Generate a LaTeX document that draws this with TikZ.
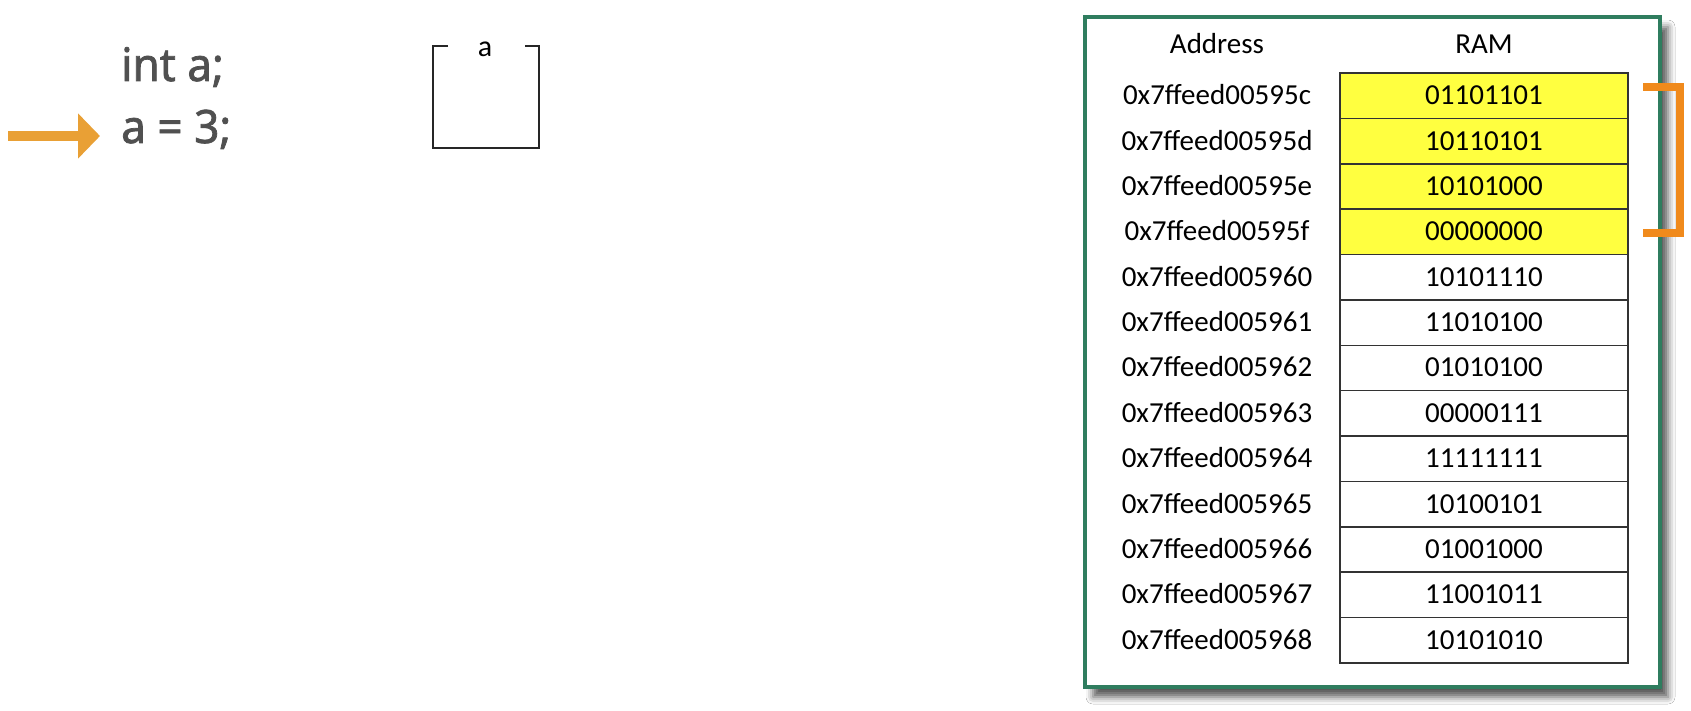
\documentclass[tikz,border=0pt]{standalone}
\usepackage{fontspec}
\usetikzlibrary{arrows.meta,shadows.blur}
\newfontfamily\tablefont{Carlito}
\newfontfamily\codefont[FakeBold=1.6,FakeStretch=0.96]{Noto Sans}
\definecolor{codegray}{HTML}{505050}
\definecolor{pointer}{HTML}{E9A035}
\definecolor{bracketorange}{HTML}{F08A1C}
\definecolor{framegreen}{HTML}{2F7D5F}
\definecolor{cellyellow}{RGB}{255,255,64}
\definecolor{celledge}{HTML}{333333}

\begin{document}
\begin{tikzpicture}[x=1pt,y=-1pt,
  codeline/.style={font=\codefont\fontsize{46}{52}\selectfont, text=codegray,
    inner sep=0pt, anchor=base west},
  tabletext/.style={font=\tablefont\fontsize{29}{34}\selectfont, inner sep=0pt,
    text height=18pt, text depth=0pt},
  cell/.style={tabletext, draw=celledge, line width=1.5pt,
    minimum width=288pt, minimum height=45.38pt},
  varbox/.style={draw=black!85, line width=2pt},
]
\useasboundingbox[fill=white] (0,0) rectangle (1691,711);

% code lines and the execution pointer
\node[codeline] (decl) at (121,81) {int a;};
\node[codeline] (assign) at (121,143) {a = 3;};
\coordinate (tail) at (8,136);
\coordinate (tip) at (100,136);
\draw[pointer, line width=10pt, -{Triangle[length=22pt,width=44pt]}] (tail) -- (tip);

% the variable box
\draw[varbox] (448,46) -- (433,46) -- (433,148) -- (539,148) -- (539,46) -- (525,46);
\node[font=\tablefont\fontsize{30}{34}\selectfont, inner sep=0pt] (varname) at (485,49) {a};

% memory panel
\node[draw=framegreen, line width=4pt, fill=white, minimum width=575pt, minimum height=670pt,
  blur shadow={shadow xshift=8pt, shadow yshift=-10pt, shadow blur radius=7pt, shadow opacity=65}]
  (frame) at (1372.5,352) {};

\node[tabletext] (addrhead) at (1217,45) {Address};
\node[tabletext] (ramhead) at (1484,45) {RAM};

\foreach \i/\ad/\v/\f in {
  0/0x7ffeed00595c/01101101/cellyellow,
  1/0x7ffeed00595d/10110101/cellyellow,
  2/0x7ffeed00595e/10101000/cellyellow,
  3/0x7ffeed00595f/00000000/cellyellow,
  4/0x7ffeed005960/10101110/white,
  5/0x7ffeed005961/11010100/white,
  6/0x7ffeed005962/01010100/white,
  7/0x7ffeed005963/00000111/white,
  8/0x7ffeed005964/11111111/white,
  9/0x7ffeed005965/10100101/white,
  10/0x7ffeed005966/01001000/white,
  11/0x7ffeed005967/11001011/white,
  12/0x7ffeed005968/10101010/white}{
  \node[cell, fill=\f] (cell\i) at (1484,{73+45.38*(\i+0.5)}) {\v};
  \node[tabletext] (addr\i) at (1217,{73+45.38*(\i+0.5)}) {\ad};
}

% bracket grouping the four bytes of a
\coordinate (brtop) at (1643,87);
\coordinate (brbot) at (1643,233);
\draw[bracketorange, line width=8pt] (brtop) -- (1680,87) -- (1680,233) -- (brbot);
\end{tikzpicture}
\end{document}
